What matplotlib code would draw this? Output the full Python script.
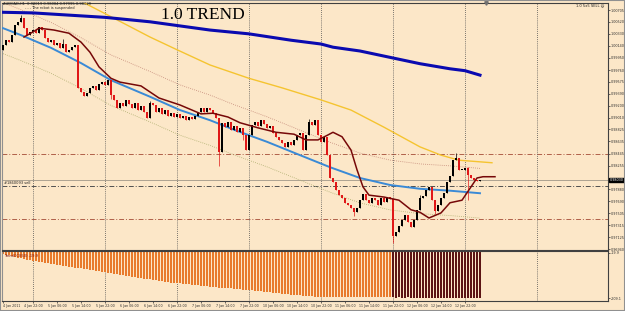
import matplotlib
matplotlib.use("Agg")
import matplotlib.pyplot as plt
import numpy as np
from matplotlib.patches import Rectangle

BG = "#FCE7C8"
W, H = 625, 311

# --- AUDCAD H1 candles (bar index 0 = 4 Jan 2011 12:00) ---
first_open = 1.0008
closes = [
    1.0015, 1.0023, 1.0020, 1.0031, 1.0047, 1.0052, 1.0058, 1.0042, 1.0031, 1.0036,
    1.0039, 1.0034, 1.0044, 1.0039, 1.0026, 1.0020, 1.0023, 1.0015, 1.0019, 1.0011,
    1.0017, 1.0004, 1.0008, 1.0012, 1.0015, 0.9948, 0.9941, 0.9935, 0.9940, 0.9948,
    0.9951, 0.9945, 0.9954, 0.9957, 0.9952, 0.9960, 0.9937, 0.9929, 0.9916, 0.9924,
    0.9919, 0.9929, 0.9923, 0.9916, 0.9924, 0.9913, 0.9919, 0.9910, 0.9900, 0.9924,
    0.9921, 0.9910, 0.9916, 0.9907, 0.9913, 0.9904, 0.9908, 0.9902, 0.9907, 0.9900,
    0.9904, 0.9897, 0.9902, 0.9899, 0.9904, 0.9910, 0.9916, 0.9910, 0.9916, 0.9913,
    0.9908, 0.9900, 0.9847, 0.9893, 0.9886, 0.9894, 0.9882, 0.9888, 0.9878, 0.9885,
    0.9874, 0.9850, 0.9874, 0.9889, 0.9894, 0.9888, 0.9897, 0.9891, 0.9885, 0.9888,
    0.9877, 0.9871, 0.9866, 0.9861, 0.9855, 0.9863, 0.9858, 0.9866, 0.9874, 0.9877,
    0.9850, 0.9874, 0.9894, 0.9889, 0.9897, 0.9874, 0.9863, 0.9871, 0.9842, 0.9806,
    0.9800, 0.9787, 0.9779, 0.9774, 0.9767, 0.9763, 0.9759, 0.9752, 0.9759, 0.9771,
    0.9781, 0.9771, 0.9767, 0.9774, 0.9771, 0.9763, 0.9774, 0.9768, 0.9776, 0.9773,
    0.9715, 0.9721, 0.9730, 0.9740, 0.9748, 0.9737, 0.9729, 0.9740, 0.9756, 0.9774,
    0.9778, 0.9787, 0.9792, 0.9771, 0.9754, 0.9763, 0.9774, 0.9782, 0.9800, 0.9809,
    0.9834, 0.9837, 0.9819, 0.9819, 0.9822, 0.9811, 0.9806, 0.9803, 0.9801, 0.9803,
]
wick_highs = {6: 1.0063, 20: 1.0025, 49: 0.9928, 102: 0.9899, 139: 0.9779, 151: 0.9845, 155: 0.9824}
wick_lows = {36: 0.9930, 72: 0.9825, 80: 0.9866, 117: 0.9746, 130: 0.9704, 155: 0.9771, 144: 0.9750}

# --- indicators, read at sample bars ---
ma_slow_x = [0, 10, 34, 49, 69, 82, 96, 106, 110, 119, 130, 139, 149, 154, 159]
ma_slow = [1.0067, 1.0066, 1.0059, 1.0052, 1.0039, 1.0033, 1.0023, 1.0017, 1.0012,
           1.0006, 0.9995, 0.9986, 0.9978, 0.9975, 0.9968]
ma_mid_x = [0, 6, 16, 26, 36, 49, 59, 69, 77, 88, 99, 109, 119, 129, 139, 149, 159]
ma_mid = [1.0042, 1.0031, 1.0011, 0.9987, 0.9960, 0.9934, 0.9913, 0.9897, 0.9882,
          0.9863, 0.9842, 0.9823, 0.9806, 0.9795, 0.9789, 0.9786, 0.9782]
ma_gold_x = [19, 27, 36, 49, 58, 69, 82, 93, 106, 116, 127, 139, 146, 152, 163]
ma_gold = [1.0094, 1.0082, 1.0060, 1.0028, 1.0008, 0.9984, 0.9963, 0.9948, 0.9929,
           0.9913, 0.9886, 0.9855, 0.9842, 0.9834, 0.9830]
ma_fast_x = [7, 10, 12, 17, 22, 26, 29, 32, 36, 39, 46, 52, 59, 66, 70, 75, 79, 85, 91,
             97, 101, 105, 108, 110, 113, 116, 118, 120, 122, 127, 132, 136, 139, 142,
             146, 149, 153, 156, 158, 160, 164]
ma_fast = [1.0028, 1.0036, 1.0042, 1.0039, 1.0034, 1.0020, 1.0004, 0.9981, 0.9963, 0.9957,
           0.9951, 0.9932, 0.9921, 0.9907, 0.9908, 0.9902, 0.9893, 0.9885, 0.9878,
           0.9875, 0.9866, 0.9866, 0.9873, 0.9878, 0.9871, 0.9850, 0.9819, 0.9792, 0.9779,
           0.9776, 0.9771, 0.9756, 0.9752, 0.9743, 0.9751, 0.9767, 0.9771, 0.9792, 0.9806,
           0.9808, 0.9808]
env_pct = 0.004

order_sl, order_open, order_tp = 0.98437, 0.97934, 0.97414

# --- lower window histogram ---
hist = [
    -24, -27, -30, -33, -36, -39, -42, -45, -48, -51,
    -53, -55, -57, -59, -61, -63, -65, -67, -69, -71,
    -73, -75, -77, -79, -81, -83, -85, -87, -89, -91,
    -93, -95, -97, -99, -101, -104, -106, -108, -110, -112,
    -114, -116, -118, -120, -122, -124, -126, -128, -129, -131,
    -133, -135, -137, -139, -141, -142, -144, -145, -146, -148,
    -149, -150, -152, -153, -154, -156, -157, -158, -159, -161,
    -162, -163, -165, -166, -167, -168, -169, -171, -172, -173,
    -174, -175, -176, -177, -179, -180, -181, -183, -184, -185,
    -187, -188, -189, -191, -192, -193, -195, -196, -197, -198,
    -199, -200, -201, -202, -203, -204, -204, -205, -205, -205,
    -203, -204, -205, -205, -204, -205, -206, -205, -204, -205,
    -205, -206, -205, -204, -205, -206, -205, -205, -206, -205,
    -206, -207, -206, -207, -207, -206, -207, -208, -207, -207,
    -208, -207, -208, -208, -207, -208, -209, -208, -208, -209,
    -208, -209, -209, -208, -209, -209, -208, -209, -209, -209,
]
hist_turn = 130

grid_bars = [10, 34, 58, 82, 106, 130, 154, 178]
label_bars = [0, 10, 18, 26, 34, 42, 50, 58, 66, 74, 82, 90, 98, 106, 114, 122, 130, 138, 146, 154]
label_text = ["4 Jan 2011", "4 Jan 22:00", "5 Jan 06:00", "5 Jan 14:00", "5 Jan 22:00",
              "6 Jan 06:00", "6 Jan 14:00", "6 Jan 22:00", "7 Jan 06:00", "7 Jan 14:00",
              "7 Jan 22:00", "10 Jan 06:00", "10 Jan 14:00", "10 Jan 22:00", "11 Jan 06:00",
              "11 Jan 14:00", "11 Jan 22:00", "12 Jan 06:00", "12 Jan 14:00", "12 Jan 22:00"]
price_ticks = [1.00705, 1.00520, 1.00330, 1.00140, 0.99950, 0.99760, 0.99575, 0.99390,
               0.99200, 0.99010, 0.98825, 0.98635, 0.98445, 0.98255, 0.97880, 0.97690,
               0.97505, 0.97315, 0.97125, 0.96940]


def box(x0, y0, x1, y1):
    return [x0 / W, 1 - y1 / H, (x1 - x0) / W, (y1 - y0) / H]


fig = plt.figure(figsize=(W / 100, H / 100), dpi=100, facecolor=BG)
ax = fig.add_axes(box(2, 3, 608, 250), facecolor=BG)
sub = fig.add_axes(box(2, 251, 608, 301), facecolor=BG, sharex=ax)

idx = np.arange(len(closes))
c = np.array(closes)
o = np.concatenate([[first_open], c[:-1]])
hi = np.maximum(o, c)
lo = np.minimum(o, c)
for k, v in wick_highs.items():
    hi[k] = v
for k, v in wick_lows.items():
    lo[k] = v
up = c >= o
col = np.where(up, "#000000", "#E01818")

ax.vlines(idx, lo, hi, colors=col, lw=0.5, zorder=4)
ax.bar(idx, np.maximum(np.abs(c - o), 0.00012), bottom=np.minimum(o, c), width=0.7,
       color=col, linewidth=0, zorder=5)

mid = np.array(ma_mid)
ax.plot(ma_mid_x, mid * (1 + env_pct), color="#C48878", lw=0.6, ls=(0, (1, 1.5)), zorder=2)
ax.plot(ma_mid_x, mid * (1 - env_pct), color="#AEAE6E", lw=0.6, ls=(0, (1, 1.5)), zorder=2)
ax.plot(ma_gold_x, ma_gold, color="#F5C430", lw=1.0, zorder=3)
ax.plot(ma_mid_x, ma_mid, color="#3A8AD6", lw=1.4, zorder=3)
ax.plot(ma_slow_x, ma_slow, color="#0A0AB0", lw=2.2, zorder=3)
ax.plot(ma_fast_x, ma_fast, color="#760808", lw=1.1, zorder=6)

dd = (0, (5, 2, 1, 2))
ax.axhline(order_sl, color="#B0604A", lw=0.7, ls=dd, zorder=1)
ax.axhline(order_tp, color="#B0604A", lw=0.7, ls=dd, zorder=1)
ax.axhline(order_open, color="#505050", lw=0.7, ls=dd, zorder=1)
ax.axhline(c[-1], color="#A09888", lw=0.6, zorder=1)

for g in grid_bars:
    ax.axvline(g, color="#505050", lw=0.6, ls=(0, (1, 1.5)), zorder=1)
    sub.axvline(g, color="#505050", lw=0.6, ls=(0, (1, 1.5)), zorder=1)

ax.set_xlim(-0.33, 201.67)
ax.set_ylim(0.96926, 1.00816)
ax.yaxis.tick_right()
ax.set_yticks(price_ticks)
ax.set_yticklabels([f"{p:.5f}" for p in price_ticks])
ax.tick_params(axis="y", labelsize=2.4, length=1.2, width=0.5, pad=0.8, colors="#303030")
ax.tick_params(axis="x", bottom=False, labelbottom=False)
ax.annotate(f"{c[-1]:.5f}", xy=(1.0, c[-1]), xycoords=("axes fraction", "data"),
            xytext=(1.2, 0), textcoords="offset points", va="center", ha="left",
            fontsize=2.4, color="white",
            bbox=dict(boxstyle="square,pad=0.1", fc="black", ec="black"))
ax.plot([161], [1.00816], marker="v", ms=2.5, color="#707070", clip_on=False, zorder=7)

hcol = ["#E87A2C" if i < hist_turn else "#5C1414" for i in range(len(hist))]
sub.bar(idx, hist, width=0.6, color=hcol, linewidth=0)
sub.set_ylim(-221.7, -11.5)
sub.yaxis.tick_right()
sub.set_yticks([-19.9, -209.1])
sub.set_yticklabels(["-19.9", "-209.1"])
sub.tick_params(axis="y", labelsize=2.4, length=1.2, width=0.5, pad=0.8, colors="#303030")
sub.set_xticks(label_bars)
sub.set_xticklabels(label_text)
sub.tick_params(axis="x", labelsize=2.3, length=1.2, width=0.5, pad=1.2, colors="#303030")
sub.get_xticklabels()[0].set_ha("left")

for a in (ax, sub):
    for s in ("top", "right", "bottom"):
        a.spines[s].set_color("#404040")
        a.spines[s].set_linewidth(0.8)
    a.spines["left"].set_color("#909090")
    a.spines["left"].set_linewidth(0.8)

fig.text(3 / W, 1 - 2 / H, "AUDCAD,H1  0.98019 0.98084 0.97995 0.98029",
         fontsize=2.6, color="#202020", va="top")
fig.text(25 / W, 1 - 6 / H, "- - - The robot is suspended", fontsize=2.6, color="#202020", va="top")
fig.text(203 / W, 1 - 15 / H, "1.0 TREND", fontsize=12.5, family="Liberation Serif",
         ha="center", va="center", color="black")
fig.text(604 / W, 1 - 3 / H, "1.0 5x5 SELL \u263a", fontsize=2.6, color="#202020",
         ha="right", va="top")
fig.text(4 / W, 1 - 183 / H, "#1860093 sell", fontsize=2.6, color="#202020", va="center")
fig.text(4 / W, 1 - 256 / H, "TrendCCI(50) -19.9", fontsize=2.6, color="#7A1010", va="center")

fig.patches.append(Rectangle((0, 0), 1, 1, transform=fig.transFigure, fill=False,
                             edgecolor="#909090", lw=1.5))

fig.savefig("out.png", dpi=100, facecolor=BG)
